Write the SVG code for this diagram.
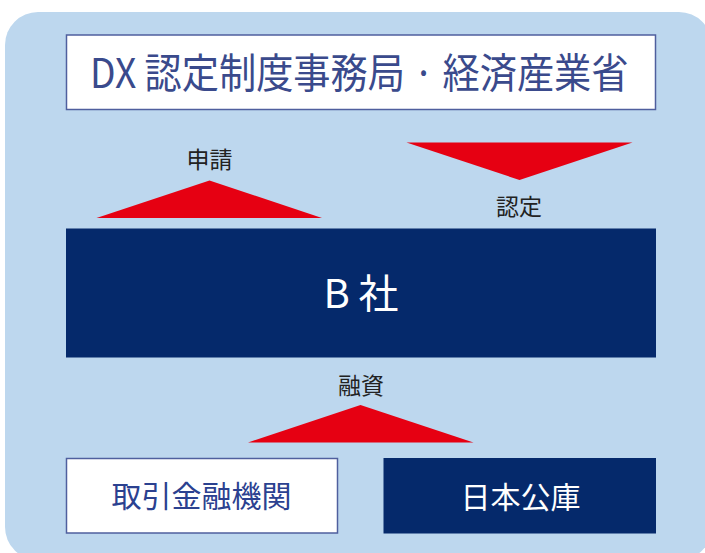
<svg xmlns="http://www.w3.org/2000/svg" width="705" height="553" viewBox="0 0 705 553">
  <style>
    .lbl { font-family: "Noto Sans CJK JP", "Noto Sans", sans-serif; font-size: 23px; fill: #222222; text-anchor: middle; }
    .navy { fill: #05296B; }
    .wbox { fill: #FFFFFF; stroke: #4F5F9E; stroke-width: 1.5; }
    .tri { fill: #E60012; }
    .t30 { font-family: "Noto Sans CJK JP", "Noto Sans", sans-serif; font-size: 30px; text-anchor: middle; }
    .ttl { font-family: "Noto Sans CJK JP", "Noto Sans", sans-serif; font-size: 41px; fill: #3A4A8C; }
  </style>
  <rect x="0" y="0" width="705" height="553" fill="#FFFFFF"/>
  <rect id="background" x="5" y="12" width="707" height="548" rx="33" ry="33" fill="#BDD7EE"/>

  <g id="title">
    <rect class="wbox" x="66.5" y="35" width="589" height="74.5"/>
    <text class="ttl" x="90" y="88" textLength="538.5" lengthAdjust="spacingAndGlyphs">DX 認定制度事務局 · 経済産業省</text>
  </g>

  <g id="companyB">
    <rect class="navy" x="66" y="228.5" width="590" height="129"/>
    <text x="361" y="308" font-family="'Noto Sans CJK JP', 'Noto Sans', sans-serif" font-size="40" fill="#FFFFFF" text-anchor="middle">B 社</text>
  </g>

  <g id="bank">
    <rect class="wbox" x="66.5" y="458.5" width="271" height="74.5"/>
    <text class="t30" x="201.5" y="507" fill="#2B4190">取引金融機関</text>
  </g>

  <g id="jfc">
    <rect class="navy" x="383.5" y="458" width="272.5" height="75.5"/>
    <text class="t30" x="520.5" y="507.5" fill="#FFFFFF">日本公庫</text>
  </g>

  <g id="connectors">
    <polygon class="tri" points="96.5,218 209.5,180.5 322,218"/>
    <polygon class="tri" points="406.5,142.5 632.5,142.5 519.5,180"/>
    <polygon class="tri" points="248,442.5 360.5,405 473.5,442.5"/>
    <text class="lbl" x="209.5" y="167.5">申請</text>
    <text class="lbl" x="519" y="215">認定</text>
    <text class="lbl" x="361" y="393.5">融資</text>
  </g>
</svg>
